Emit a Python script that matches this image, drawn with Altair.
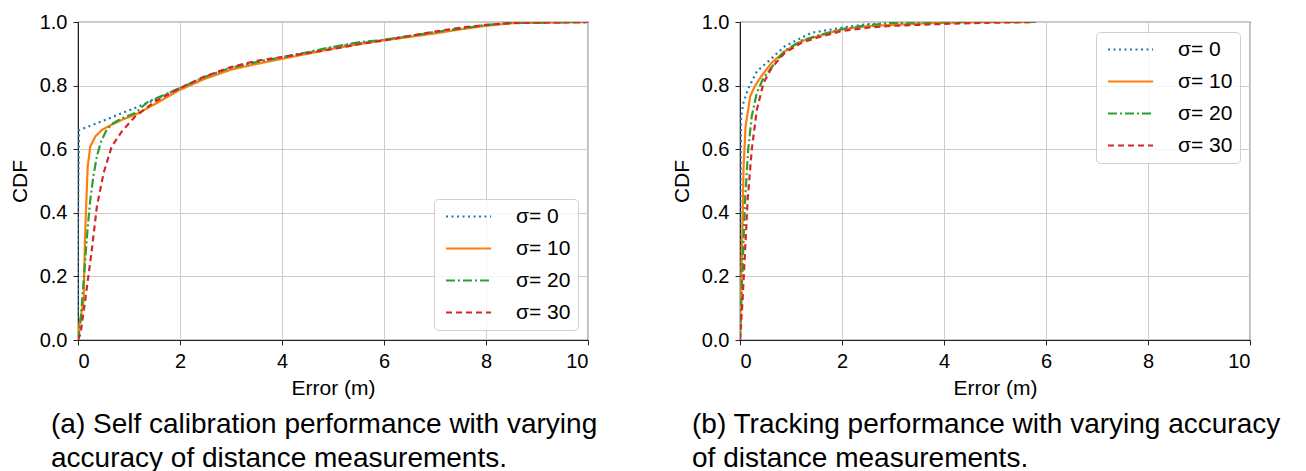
import altair as alt
import pandas as pd

FONT = "Liberation Sans"
series_names = ["σ= 0", "σ= 10", "σ= 20", "σ= 30"]
colors = ["#1f77b4", "#ff7f0e", "#2ca02c", "#d62728"]
dashes = [[2, 3.5], [1, 0], [9, 3, 2, 3], [6, 4]]

# ---- panel (a): self calibration ----
a_s0_x = [0, 0, 0.02, 0.5, 1.0, 1.5, 2.0, 2.5, 3, 3.5, 4, 4.5, 5, 5.5, 6, 6.5, 7, 7.5, 8, 8.5, 9, 10]
a_s0_y = [0, 0.40, 0.66, 0.69, 0.722, 0.755, 0.792, 0.828, 0.856, 0.874, 0.889, 0.904, 0.92, 0.933, 0.944, 0.956, 0.968, 0.98, 0.99, 0.997, 0.998, 1.0]
a_s10_x = [0, 0.03, 0.11, 0.14, 0.19, 0.24, 0.34, 0.47, 0.66, 0.9, 1.12, 1.51, 2.0, 2.5, 3, 3.5, 4, 4.5, 5, 5.5, 6, 6.5, 7, 7.5, 8, 8.5, 9, 10]
a_s10_y = [0, 0.05, 0.124, 0.335, 0.545, 0.608, 0.64, 0.661, 0.677, 0.695, 0.708, 0.742, 0.787, 0.822, 0.85, 0.868, 0.884, 0.9, 0.916, 0.93, 0.942, 0.953, 0.964, 0.977, 0.988, 0.996, 0.998, 1.0]
a_s20_x = [0, 0.04, 0.08, 0.18, 0.24, 0.31, 0.37, 0.44, 0.56, 0.69, 0.9, 1.12, 1.38, 2.0, 2.5, 3, 3.5, 4, 4.5, 5, 5.5, 6, 6.5, 7, 7.5, 8, 8.5, 9, 10]
a_s20_y = [0, 0.04, 0.12, 0.335, 0.44, 0.524, 0.577, 0.619, 0.661, 0.682, 0.70, 0.714, 0.75, 0.792, 0.828, 0.856, 0.874, 0.889, 0.905, 0.922, 0.936, 0.944, 0.956, 0.968, 0.979, 0.99, 0.997, 0.998, 1.0]
a_s30_x = [0, 0.05, 0.14, 0.27, 0.37, 0.5, 0.66, 0.86, 1.12, 1.51, 2.0, 2.5, 3, 3.5, 4, 4.5, 5, 5.5, 6, 6.5, 7, 7.5, 8, 8.5, 9, 10]
a_s30_y = [0, 0.02, 0.124, 0.282, 0.419, 0.524, 0.608, 0.656, 0.703, 0.75, 0.792, 0.83, 0.858, 0.878, 0.89, 0.902, 0.915, 0.93, 0.942, 0.956, 0.97, 0.982, 0.991, 0.997, 0.998, 1.0]

# ---- panel (b): tracking ----
b_s0_x = [0, 0.01, 0.02, 0.065, 0.16, 0.33, 0.56, 0.88, 1.4, 2.0, 2.5, 3.2, 4, 5, 5.8]
b_s0_y = [0, 0.40, 0.70, 0.745, 0.79, 0.845, 0.877, 0.924, 0.966, 0.982, 0.993, 0.998, 1.0, 1.0, 1.0]
b_s10_x = [0, 0.02, 0.046, 0.07, 0.11, 0.2, 0.29, 0.42, 0.62, 0.88, 1.21, 1.54, 2.0, 2.5, 3.5, 4.5, 5.8]
b_s10_y = [0, 0.145, 0.335, 0.545, 0.672, 0.766, 0.798, 0.83, 0.872, 0.908, 0.94, 0.956, 0.977, 0.987, 0.995, 0.999, 1.0]
b_s20_x = [0, 0.05, 0.1, 0.16, 0.23, 0.33, 0.46, 0.69, 0.88, 1.21, 1.54, 2.0, 2.5, 3, 4, 5, 5.8]
b_s20_y = [0, 0.23, 0.44, 0.598, 0.703, 0.777, 0.824, 0.872, 0.91, 0.942, 0.958, 0.978, 0.99, 0.997, 1.0, 1.0, 1.0]
b_s30_x = [0, 0.05, 0.1, 0.15, 0.23, 0.33, 0.46, 0.62, 0.88, 1.21, 1.54, 2.0, 2.5, 3, 4, 5, 5.8]
b_s30_y = [0, 0.124, 0.282, 0.44, 0.598, 0.724, 0.808, 0.856, 0.903, 0.935, 0.952, 0.972, 0.982, 0.988, 0.994, 0.998, 1.0]

x_ticks = [0, 2, 4, 6, 8, 10]
y_ticks = [0.0, 0.2, 0.4, 0.6, 0.8, 1.0]
x_title = "Error (m)"
y_title = "CDF"
caption_a = ["(a) Self calibration performance with varying", "accuracy of distance measurements."]
caption_b = ["(b) Tracking performance with varying accuracy", "of distance measurements."]


def make_df(xs_list, ys_list):
    rows = []
    for name, xs, ys in zip(series_names, xs_list, ys_list):
        for i, (x, y) in enumerate(zip(xs, ys)):
            rows.append({"series": name, "x": x, "y": y, "i": i})
    return pd.DataFrame(rows)


df_a = make_df([a_s0_x, a_s10_x, a_s20_x, a_s30_x], [a_s0_y, a_s10_y, a_s20_y, a_s30_y])
df_b = make_df([b_s0_x, b_s10_x, b_s20_x, b_s30_x], [b_s0_y, b_s10_y, b_s20_y, b_s30_y])


def panel(df, caption, legend_orient, cap_dx):
    legend = alt.Legend(
        title=None, orient=legend_orient, offset=10,
        labelFont=FONT, labelFontSize=21, labelColor="black",
        symbolType="M-1,0H7.2", symbolSize=121, symbolStrokeWidth=2.2,
        labelOffset=54, rowPadding=10, padding=7,
        strokeColor="#d0d0d0", fillColor="rgba(255,255,255,0.8)", cornerRadius=4,
    )
    base = alt.Chart(df).mark_line(strokeWidth=2.2, clip=True).encode(
        x=alt.X("x:Q", scale=alt.Scale(domain=[0, 10], nice=False),
                axis=alt.Axis(values=x_ticks, title=x_title, format="d")),
        y=alt.Y("y:Q", scale=alt.Scale(domain=[0, 1], nice=False),
                axis=alt.Axis(values=y_ticks, title=y_title, format=".1f")),
        color=alt.Color("series:N", scale=alt.Scale(domain=series_names, range=colors), legend=legend),
        strokeDash=alt.StrokeDash("series:N", scale=alt.Scale(domain=series_names, range=dashes), legend=legend),
        order=alt.Order("i:Q"),
    )
    return base.properties(
        width=510, height=318,
        title=alt.TitleParams(
            text=caption, orient="bottom", anchor="start", frame="group", font=FONT, fontSize=28,
            fontWeight="normal", color="black", lineHeight=34, dx=cap_dx, offset=13,
        ),
    )


left = panel(df_a, caption_a, "bottom-right", -27)
right = panel(df_b, caption_b, "top-right", -48)

chart = alt.hconcat(left, right, spacing=152, bounds="flush").properties(
    padding={"left": 0, "top": 3, "right": 5, "bottom": 5}
).configure_view(
    stroke="#222222", strokeWidth=1.2
).configure_axis(
    labelFont=FONT, titleFont=FONT, labelFontSize=20, titleFontSize=21,
    labelColor="black", titleColor="black", titleFontWeight="normal",
    grid=True, gridColor="#cccccc", gridWidth=1,
    domainColor="#222222", tickColor="#222222", tickSize=5, labelPadding=6,
).configure_axisY(titlePadding=9).configure_axisX(titlePadding=6)

chart.save("out.html", embed_options={"renderer": "svg", "actions": False})
